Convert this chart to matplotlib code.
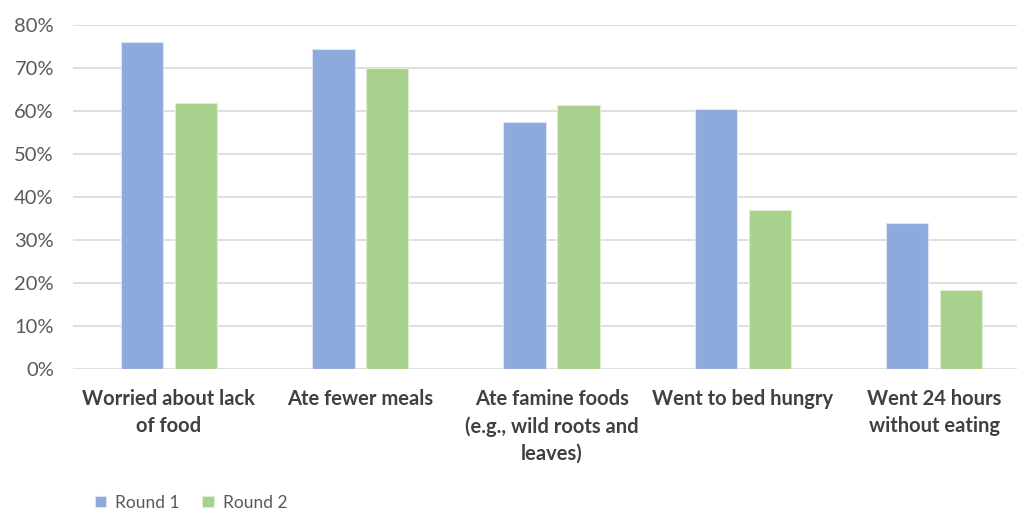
import numpy as np
import matplotlib.pyplot as plt
from matplotlib.ticker import PercentFormatter

categories = ["Worried about lack\nof food", "Ate fewer meals",
              "Ate famine foods\n(e.g., wild roots and\nleaves)",
              "Went to bed hungry", "Went 24 hours\nwithout eating"]
round1 = [76, 74.5, 57.5, 60.5, 34]
round2 = [62, 70, 61.5, 37, 18.5]
series_names = ["Round 1", "Round 2"]

plt.rcParams['font.family'] = ['Lato', 'DejaVu Sans']

fig = plt.figure(figsize=(10.17, 5.12), dpi=100)
# plot area runs a little past the right edge of the canvas
ax = fig.add_axes([0.0721, 0.279, 0.9405, 0.672])

x = np.arange(len(categories))
w = 0.222
ax.bar(x - 0.141, round1, w, color='#8EA9DB', edgecolor='#DDE5F5', linewidth=0.8,
       label=series_names[0], zorder=3)
ax.bar(x + 0.141, round2, w, color='#A9D18E', edgecolor='#DCEFD0', linewidth=0.8,
       label=series_names[1], zorder=3)

ax.set_xlim(-0.5, len(categories) - 0.5)
ax.set_ylim(0, 80)
ax.set_yticks(range(0, 81, 10))
ax.yaxis.set_major_formatter(PercentFormatter(decimals=0))
ax.grid(axis='y', color='#D9D9D9', linewidth=1.2, zorder=0)
for s in ax.spines.values():
    s.set_visible(False)
ax.tick_params(axis='both', length=0)
ax.tick_params(axis='y', labelsize=14.5, labelcolor='#595959', pad=14)

ax.set_xticks(x)
ax.set_xticklabels(categories, fontsize=14.5, fontweight='bold', color='#404040',
                   linespacing=1.45)
ax.tick_params(axis='x', pad=14)

fig.legend(*ax.get_legend_handles_labels(), loc='center left',
           bbox_to_anchor=(0.093, 0.018), ncol=2, frameon=False,
           fontsize=12.5, labelcolor='#595959', handlelength=0.65, handleheight=0.65,
           handletextpad=0.55, columnspacing=1.3, borderaxespad=0, borderpad=0)

fig.savefig('out.png', dpi=100)
